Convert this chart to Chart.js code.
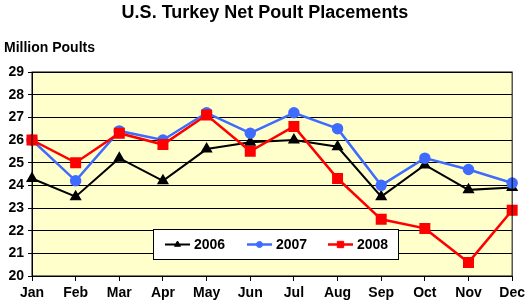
<!DOCTYPE html>
<html>
<head>
<meta charset="utf-8">
<script src="https://cdn.jsdelivr.net/npm/chart.js@4/dist/chart.umd.min.js"></script>
<style>
  html, body { margin: 0; padding: 0; background: #fff; }
  #wrap { width: 529px; height: 307px; position: relative; }
</style>
</head>
<body>
<div id="wrap"><canvas id="chart"></canvas></div>
<script>
const months = ['Jan', 'Feb', 'Mar', 'Apr', 'May', 'Jun', 'Jul', 'Aug', 'Sep', 'Oct', 'Nov', 'Dec'];
const y2006 = [24.3, 23.5, 25.2, 24.2, 25.6, 25.9, 26.0, 25.7, 23.5, 24.9, 23.8, 23.9];
const y2007 = [26.0, 24.2, 26.4, 26.0, 27.2, 26.3, 27.2, 26.5, 24.0, 25.2, 24.7, 24.1];
const y2008 = [26.0, 25.0, 26.3, 25.8, 27.1, 25.5, 26.6, 24.3, 22.5, 22.1, 20.6, 22.9];

const FONT = 'Arial, "Liberation Sans", sans-serif';

// yellow plot background, border, title texts and in-plot legend
const decor = {
  id: 'decor',
  beforeDraw(chart) {
    const { ctx, chartArea: a } = chart;
    ctx.save();
    ctx.fillStyle = '#FFFFCC';
    ctx.fillRect(a.left, a.top, a.right - a.left, a.bottom - a.top);
    ctx.restore();
  },
  afterDatasetsDraw(chart) {
    const { ctx, chartArea: a } = chart;
    ctx.save();
    ctx.strokeStyle = '#000';
    ctx.lineWidth = 1;
    ctx.strokeRect(a.left, a.top, a.right - a.left, a.bottom - a.top);

    ctx.fillStyle = '#000';
    ctx.textBaseline = 'middle';
    ctx.font = 'bold 18px ' + FONT;
    ctx.textAlign = 'center';
    ctx.fillText('U.S. Turkey Net Poult Placements', 265, 13);
    ctx.font = 'bold 14px ' + FONT;
    ctx.textAlign = 'left';
    ctx.fillText('Million Poults', 4, 48);

    // legend box
    const bx = 153.5, by = 229.5, bw = 245, bh = 30;
    ctx.fillStyle = '#fff';
    ctx.fillRect(bx, by, bw, bh);
    ctx.strokeRect(bx, by, bw, bh);
    const cy = by + bh / 2;
    const starts = [165, 247, 328];
    chart.data.datasets.forEach((ds, i) => {
      const x0 = starts[i];
      ctx.strokeStyle = ds.borderColor;
      ctx.lineWidth = ds.borderWidth;
      ctx.beginPath();
      ctx.moveTo(x0, cy);
      ctx.lineTo(x0 + 25, cy);
      ctx.stroke();
      ctx.fillStyle = ds.backgroundColor;
      ctx.lineWidth = 1;
      Chart.helpers.drawPoint(ctx, {
        pointStyle: ds.pointStyle, radius: ds.pointRadius - 1.5, borderWidth: 1
      }, x0 + 12.5, cy);
      ctx.fillStyle = '#000';
      ctx.font = 'bold 14px ' + FONT;
      ctx.textAlign = 'left';
      ctx.fillText(ds.label, x0 + 29, cy + 1);
    });
    ctx.restore();
  }
};

new Chart(document.getElementById('chart'), {
  type: 'line',
  data: {
    labels: months,
    datasets: [
      { label: '2006', data: y2006, borderColor: '#000', backgroundColor: '#000',
        borderWidth: 2, pointStyle: 'triangle', pointRadius: 5, order: 3 },
      { label: '2007', data: y2007, borderColor: '#3F6BFF', backgroundColor: '#3F6BFF',
        borderWidth: 2.5, pointStyle: 'circle', pointRadius: 4.5, order: 2 },
      { label: '2008', data: y2008, borderColor: '#FF0000', backgroundColor: '#FF0000',
        borderWidth: 2.5, pointStyle: 'rect', pointRadius: 6, order: 1 }
    ]
  },
  options: {
    responsive: true,
    maintainAspectRatio: false,
    animation: false,
    layout: { padding: { top: 72, right: 15, left: 0, bottom: 0 } },
    plugins: {
      legend: { display: false },
      title: { display: false },
      tooltip: { enabled: false }
    },
    elements: { line: { tension: 0 }, point: { borderWidth: 1, hoverRadius: 5 } },
    scales: {
      x: {
        offset: false,
        grid: { display: true, drawOnChartArea: false, color: '#000', tickLength: 5 },
        border: { color: '#000' },
        ticks: { color: '#000', font: { family: FONT, size: 14, weight: 'bold' },
          padding: 4, maxRotation: 0, autoSkip: false },
        afterFit(s) { s.height = 31; }
      },
      y: {
        min: 20, max: 29,
        grid: { color: '#000', tickLength: 4 },
        border: { color: '#000' },
        ticks: { stepSize: 1, color: '#000', font: { family: FONT, size: 14, weight: 'bold' }, padding: 4 },
        afterFit(s) { s.width = 32; }
      }
    }
  },
  plugins: [decor]
});
</script>
</body>
</html>
